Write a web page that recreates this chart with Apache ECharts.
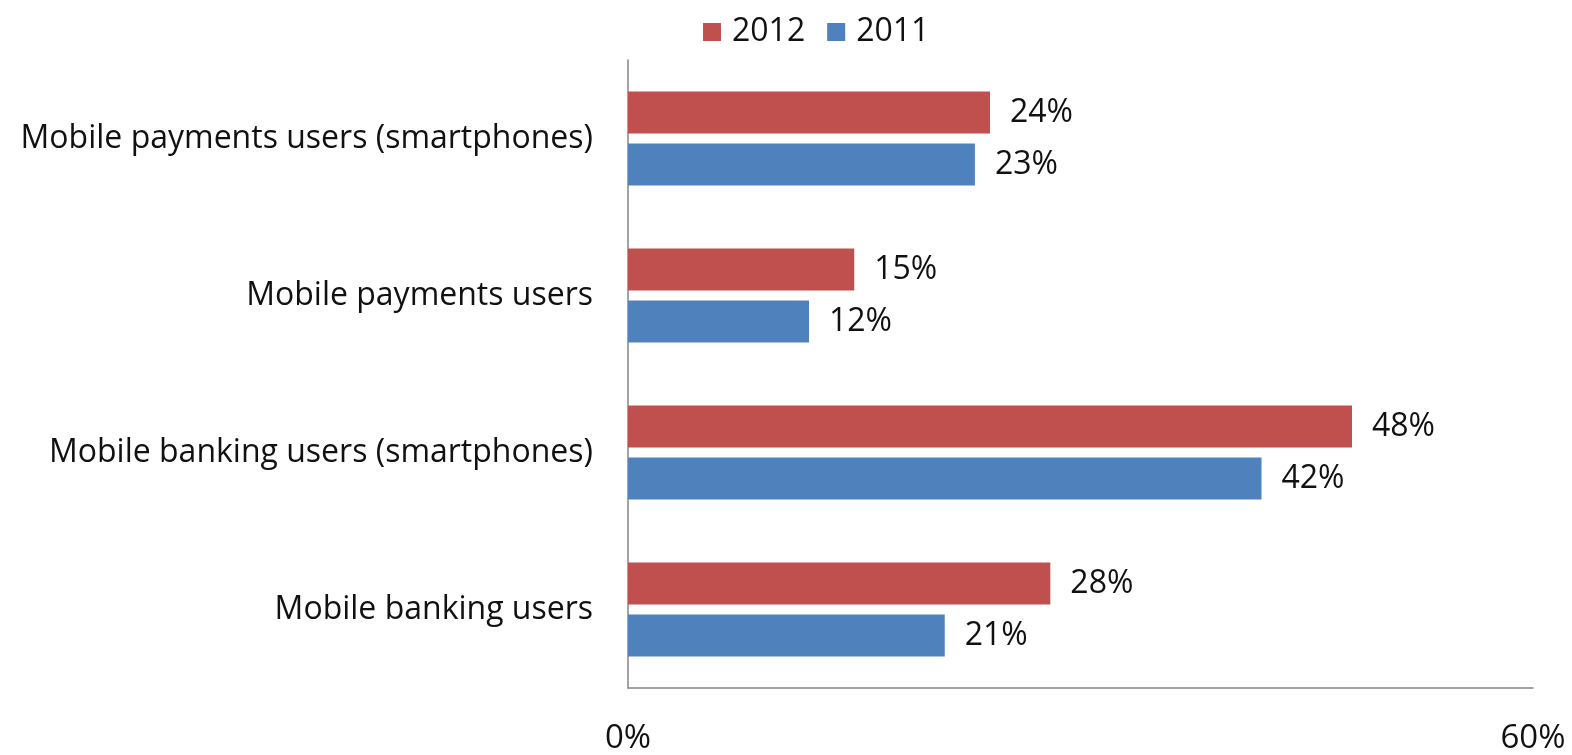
<!DOCTYPE html>
<html>
<head>
<meta charset="utf-8">
<script src="https://cdn.jsdelivr.net/npm/echarts@6/dist/echarts.min.js"></script>
<style>
  html, body { margin: 0; padding: 0; background: #ffffff; overflow: hidden; }
  #chart { width: 1572px; height: 755px; }
</style>
</head>
<body>
<div id="chart"></div>
<script>
// Category labels, bottom to top on the vertical axis
const categories = [
  'Mobile banking users',
  'Mobile banking users (smartphones)',
  'Mobile payments users',
  'Mobile payments users (smartphones)'
];
// Share of users (%) per year, same order as categories
const values2012 = [28, 48, 15, 24];
const values2011 = [21, 42, 12, 23];
const seriesNames = ['2012', '2011'];

const FONT = 'Open Sans';
const TEXT = '#111111';
const SIZE = 32;

const barLabel = {
  show: true,
  position: 'right',
  distance: 20,
  formatter: '{c}%',
  fontSize: SIZE,
  color: TEXT,
  fontFamily: FONT
};

const chart = echarts.init(document.getElementById('chart'));
chart.setOption({
  animation: false,
  textStyle: { fontFamily: FONT },
  legend: {
    data: seriesNames,
    left: 698,
    top: 11,
    itemWidth: 18,
    itemHeight: 18,
    itemGap: 22,
    icon: 'rect',
    textStyle: { fontSize: SIZE, color: TEXT, fontFamily: FONT, padding: [0, 0, 0, 6] }
  },
  grid: { left: 628, right: 39, top: 60, bottom: 61, containLabel: false },
  xAxis: {
    type: 'value',
    min: 0,
    max: 60,
    interval: 60,
    axisLine: { show: true, lineStyle: { color: '#868686', width: 1.5 } },
    axisTick: { show: false },
    splitLine: { show: false },
    axisLabel: {
      formatter: '{value}%',
      fontSize: 33,
      color: TEXT,
      margin: 34,
      fontFamily: FONT
    }
  },
  yAxis: {
    type: 'category',
    data: categories,
    axisLine: { show: true, lineStyle: { color: '#868686', width: 1.5 } },
    axisTick: { show: false },
    axisLabel: { fontSize: SIZE, color: TEXT, margin: 35, fontFamily: FONT }
  },
  series: [
    {
      name: '2012',
      type: 'bar',
      data: values2012,
      barWidth: 42,
      barGap: '24%',
      itemStyle: { color: '#C0504D' },
      label: barLabel
    },
    {
      name: '2011',
      type: 'bar',
      data: values2011,
      barWidth: 42,
      barGap: '24%',
      itemStyle: { color: '#4F81BD' },
      label: barLabel
    }
  ]
});
</script>
</body>
</html>
